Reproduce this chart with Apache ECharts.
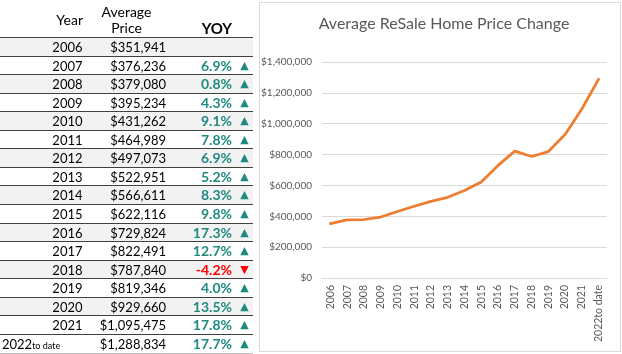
<!DOCTYPE html>
<html><head><meta charset="utf-8">
<script src="https://cdn.jsdelivr.net/npm/echarts@6/dist/echarts.min.js"></script>
<style>html,body{margin:0;padding:0;background:#fff}#c{width:622px;height:354px}</style>
</head><body><div id="c"></div>
<script>
const years = ['2006','2007','2008','2009','2010','2011','2012','2013','2014','2015','2016','2017','2018','2019','2020','2021','2022to date'];
const prices = [351941,376236,379080,395234,431262,464989,497073,522951,566611,622116,729824,822491,787840,819346,929660,1095475,1288834];
const yoy = [null,6.9,0.8,4.3,9.1,7.8,6.9,5.2,8.3,9.8,17.3,12.7,-4.2,4.0,13.5,17.8,17.7];
const yTicks = [0,200000,400000,600000,800000,1000000,1200000,1400000];
const chartTitle = 'Average ReSale Home Price Change';
const headers = ['Year', 'Average', 'Price', 'YOY'];

const FONT = 'Lato, "Open Sans", sans-serif';
const fmt = v => '$' + v.toLocaleString('en-US');

const g = [];
// chart frame
g.push({type:'rect', shape:{x:259.5, y:2.5, width:361, height:349}, style:{fill:'none', stroke:'#d9d9d9', lineWidth:1}, z:0});
// headers
g.push({type:'text', x:83, y:20, style:{text:headers[0], align:'right', verticalAlign:'middle', fontSize:14, fontFamily:FONT, fill:'#000'}});
g.push({type:'text', x:126.5, y:12, style:{text:headers[1], align:'center', verticalAlign:'middle', fontSize:14, fontFamily:FONT, fill:'#000'}});
g.push({type:'text', x:126.5, y:28.5, style:{text:headers[2], align:'center', verticalAlign:'middle', fontSize:14, fontFamily:FONT, fill:'#000'}});
g.push({type:'text', x:232, y:29, style:{text:headers[3], align:'right', verticalAlign:'middle', fontSize:15, fontWeight:'bold', fontFamily:FONT, fill:'#000'}});

const rowH = 18.56, top0 = 37;
years.forEach((yr, i) => {
  const top = Math.round(top0 + i * rowH);
  const bot = Math.round(top0 + (i + 1) * rowH);
  const gray = (i % 2 === 0) && i < 16;
  if (gray) {
    g.push({type:'rect', shape:{x:0, y:top, width:253, height:bot - top}, style:{fill:'#f2f2f2'}, z:0});
  }
  g.push({type:'line', shape:{x1:0, y1:top + 0.5, x2:253, y2:top + 0.5}, style:{stroke:'#404040', lineWidth:1}, z:1});
  const cy = top + 10.5;
  if (i === years.length - 1) {
    g.push({type:'text', x:2, y:cy, style:{text:'{a|2022}{b|to date}', rich:{a:{fontSize:13, fontFamily:FONT, fill:'#000'}, b:{fontSize:9, fontFamily:FONT, fill:'#000', padding:[3,0,0,0]}}, align:'left', verticalAlign:'middle'}, z:2});
  } else {
    g.push({type:'text', x:82.5, y:cy, style:{text:yr, align:'right', verticalAlign:'middle', fontSize:13, fontFamily:FONT, fill:'#000'}, z:2});
  }
  g.push({type:'text', x:166, y:cy, style:{text:fmt(prices[i]), align:'right', verticalAlign:'middle', fontSize:13, fontFamily:FONT, fill:'#000'}, z:2});
  if (yoy[i] !== null) {
    const up = yoy[i] >= 0;
    const col = up ? '#1f8a80' : '#ff0000';
    g.push({type:'text', x:232, y:cy, style:{text:yoy[i].toFixed(1) + '%', align:'right', verticalAlign:'middle', fontSize:14, fontWeight:'bold', fontFamily:FONT, fill:col}, z:2});
    g.push({type:'text', x:244.5, y:cy, style:{text:up ? '▲' : '▼', align:'center', verticalAlign:'middle', fontSize:11, fontFamily:'"DejaVu Sans", sans-serif', fill:col}, z:2});
  }
  if (i === years.length - 1) {
    g.push({type:'line', shape:{x1:0, y1:bot + 0.5, x2:253, y2:bot + 0.5}, style:{stroke:'#bfbfbf', lineWidth:1}, z:1});
  }
});

const chart = echarts.init(document.getElementById('c'), null, {renderer:'canvas'});
chart.setOption({
  animation:false,
  backgroundColor:'#fff',
  title:{text:chartTitle, left:439, top:11, textAlign:'center', textStyle:{fontFamily:FONT, fontSize:16, fontWeight:'normal', color:'#595959'}},
  grid:{left:322, right:15, top:62, bottom:76},
  xAxis:{type:'category', data:years, boundaryGap:true,
    axisLine:{show:true, lineStyle:{color:'#d6dce5', width:1}}, axisTick:{show:false},
    axisLabel:{rotate:90, color:'#595959', fontSize:10.5, fontFamily:FONT, margin:7, interval:0}},
  yAxis:{type:'value', min:0, max:1400000, interval:200000,
    axisLine:{show:false}, axisTick:{show:false},
    splitLine:{lineStyle:{color:'#d9d9d9', width:1}},
    axisLabel:{color:'#595959', fontSize:10, fontFamily:FONT, margin:10, formatter:v => yTicks.includes(v) ? fmt(v) : ''}},
  series:[{type:'line', data:prices, symbol:'none', smooth:false,
    lineStyle:{color:'#ED7D31', width:2.75, cap:'round', join:'round'}}],
  graphic:g
});
</script></body></html>
